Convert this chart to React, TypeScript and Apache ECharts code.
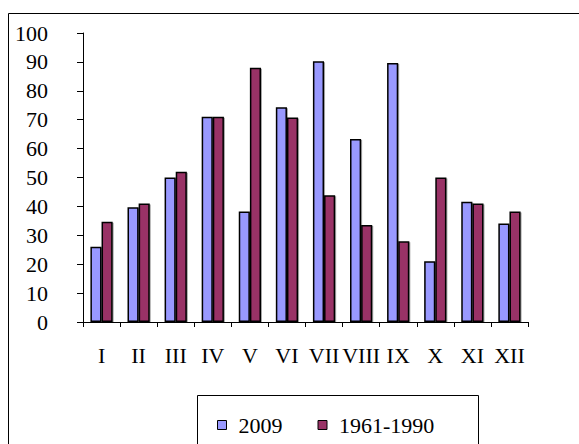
import React, { useEffect, useRef } from "react";
import * as echarts from "echarts";

const categories = ["I", "II", "III", "IV", "V", "VI", "VII", "VIII", "IX", "X", "XI", "XII"];
const series2009 = [26, 39.7, 50, 71, 38.2, 74.3, 90.2, 63.3, 89.6, 21, 41.6, 34.1];
const series1961 = [34.7, 41, 52, 71, 88, 70.8, 43.9, 33.6, 27.9, 50, 41, 38.2];
const yTicks = { min: 0, max: 100, interval: 10 };

const FONT = "'Liberation Serif', 'Times New Roman', serif";

export default function App() {
  const ref = useRef<HTMLDivElement>(null);
  useEffect(() => {
    if (!ref.current) return;
    const chart = echarts.init(ref.current, undefined, { renderer: "svg" });
    chart.setOption({
      animation: false,
      backgroundColor: "#ffffff",
      grid: { left: 83, top: 33, right: 51, bottom: 122, containLabel: false },
      graphic: [
        {
          type: "rect",
          shape: { x: 8.5, y: 13.5, width: 620, height: 480 },
          style: { fill: "none", stroke: "#000", lineWidth: 1 },
          z: 0,
        },
        {
          type: "rect",
          shape: { x: 197.5, y: 395.5, width: 281, height: 80 },
          style: { fill: "#fff", stroke: "#000", lineWidth: 1 },
          z: 1,
        },
      ],
      legend: {
        left: 212,
        top: 409,
        itemWidth: 9,
        itemHeight: 9,
        itemGap: 35,
        icon: "rect",
        z: 5,
        textStyle: { fontFamily: FONT, fontSize: 22, color: "#000", padding: [0, 0, 0, 7] },
        data: [
          { name: "2009", itemStyle: { color: "#9999FF", borderColor: "#000", borderWidth: 1 } },
          { name: "1961-1990", itemStyle: { color: "#993366", borderColor: "#000", borderWidth: 1 } },
        ],
      },
      xAxis: {
        type: "category",
        data: categories,
        axisLine: { lineStyle: { color: "#000", width: 1 } },
        axisTick: { show: true, length: 5, lineStyle: { color: "#000" } },
        axisLabel: { fontFamily: FONT, fontSize: 22, color: "#000", margin: 22, interval: 0 },
        splitLine: { show: false },
      },
      yAxis: {
        type: "value",
        min: yTicks.min,
        max: yTicks.max,
        interval: yTicks.interval,
        axisLine: { show: true, lineStyle: { color: "#000", width: 1 } },
        axisTick: { show: true, length: 6, lineStyle: { color: "#000" } },
        axisLabel: { fontFamily: FONT, fontSize: 22, color: "#000", margin: 35 },
        splitLine: { show: false },
      },
      series: [
        {
          name: "2009",
          type: "bar",
          data: series2009,
          barGap: "0%",
          barCategoryGap: "40%",
          itemStyle: {
            color: "#9999FF",
            borderColor: "#000",
            borderWidth: 1.5,
            shadowColor: "rgba(0,0,0,0.35)",
            shadowOffsetX: 1,
            shadowOffsetY: 1,
          },
        },
        {
          name: "1961-1990",
          type: "bar",
          data: series1961,
          barGap: "0%",
          barCategoryGap: "40%",
          itemStyle: {
            color: "#993366",
            borderColor: "#000",
            borderWidth: 1.5,
            shadowColor: "rgba(0,0,0,0.35)",
            shadowOffsetX: 1,
            shadowOffsetY: 1,
          },
        },
      ],
    });
    return () => chart.dispose();
  }, []);
  return (
    <div
      ref={ref}
      style={{ position: "fixed", left: 0, top: 0, width: 579, height: 444, background: "#fff" }}
    />
  );
}
